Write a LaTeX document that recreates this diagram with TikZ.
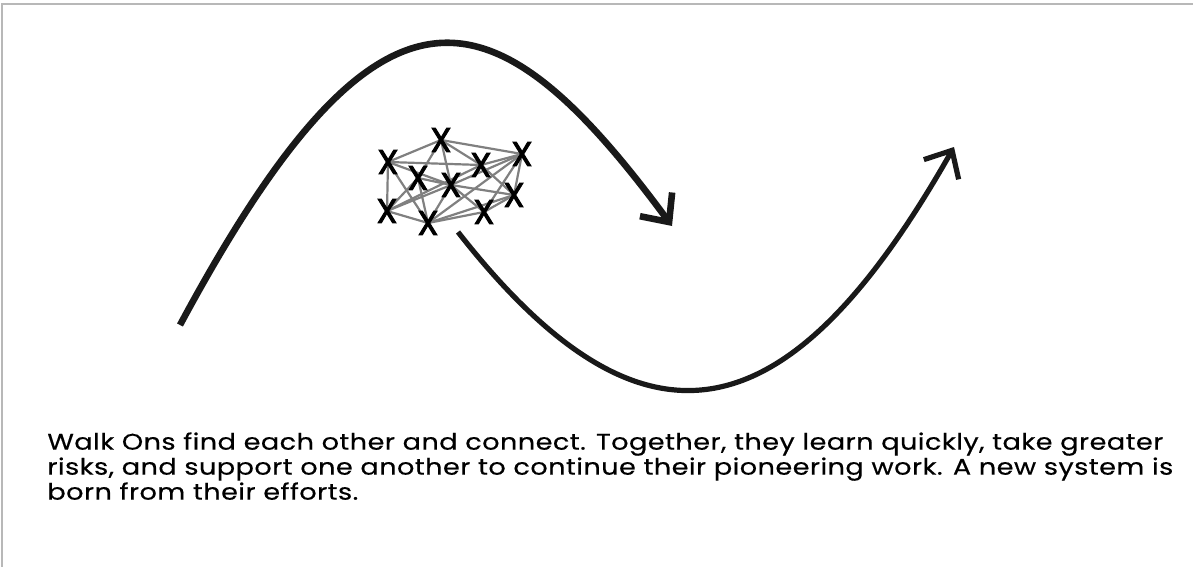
\documentclass[tikz,border=0pt]{standalone}
\usepackage{fontspec}
\setmainfont{Poppins}
\newfontfamily\captionfont[FakeStretch=1.2,LetterSpace=2,FakeBold=0.4]{Poppins}
\newfontfamily\markfont[FakeBold=2.5]{Poppins}
\usetikzlibrary{arrows.meta,backgrounds}

\begin{document}
\begin{tikzpicture}[x=0.5pt,y=0.5pt,yscale=-1,xscale=1,
  xmark/.style={inner sep=0pt,font=\markfont\fontsize{17}{17}\selectfont},
  link/.style={draw=black!50,line width=1.1pt},
  bigarrow/.style={draw=black!90,line width=3pt,-{Straight Barb[length=11pt,width=20pt]}}]

\useasboundingbox (0,0) rectangle (1193,567);

\draw[black!28,line width=1.2pt] (2,567) -- (2,4) -- (1193,4);


\node[xmark] (a) at (388,162) {X};
\node[xmark] (b) at (441,140) {X};
\node[xmark] (c) at (481,165) {X};
\node[xmark] (d) at (522,154) {X};
\node[xmark] (e) at (418,178) {X};
\node[xmark] (f) at (451,185) {X};
\node[xmark] (g) at (514,195) {X};
\node[xmark] (h) at (387,211) {X};
\node[xmark] (i) at (428,223) {X};
\node[xmark] (j) at (484,212) {X};

\begin{scope}[on background layer]
\foreach \p/\q in {a/b,b/d,a/c,c/d,a/h,h/i,i/j,j/g,g/d,b/e,e/h,b/f,b/c,a/i,e/i,e/f,f/g,h/f,h/c,i/f,i/d,i/g,f/d,f/j,c/g,j/d,a/f}
  \draw[link] (\p.center) -- (\q.center);
\end{scope}


\coordinate (riseStart) at (180,325);
\coordinate (riseEnd) at (672,226);
\coordinate (dipStart) at (458,232);
\coordinate (dipEnd) at (954,147);

\draw[bigarrow,line width=3.3pt] (riseStart) .. controls (380,-47) and (492,-18) .. (riseEnd);
\draw[bigarrow,line width=2.6pt] (dipStart) .. controls (645,471) and (790,436) .. (dipEnd);


\node[anchor=north west,align=left,inner sep=0pt,font=\captionfont\fontsize{11.3}{12.5}\selectfont] (caption) at (47,432)
  {Walk Ons find each other and connect. Together, they learn quickly, take greater\\
   risks, and support one another to continue their pioneering work. A new system is\\
   born from their efforts.};

\end{tikzpicture}
\end{document}
